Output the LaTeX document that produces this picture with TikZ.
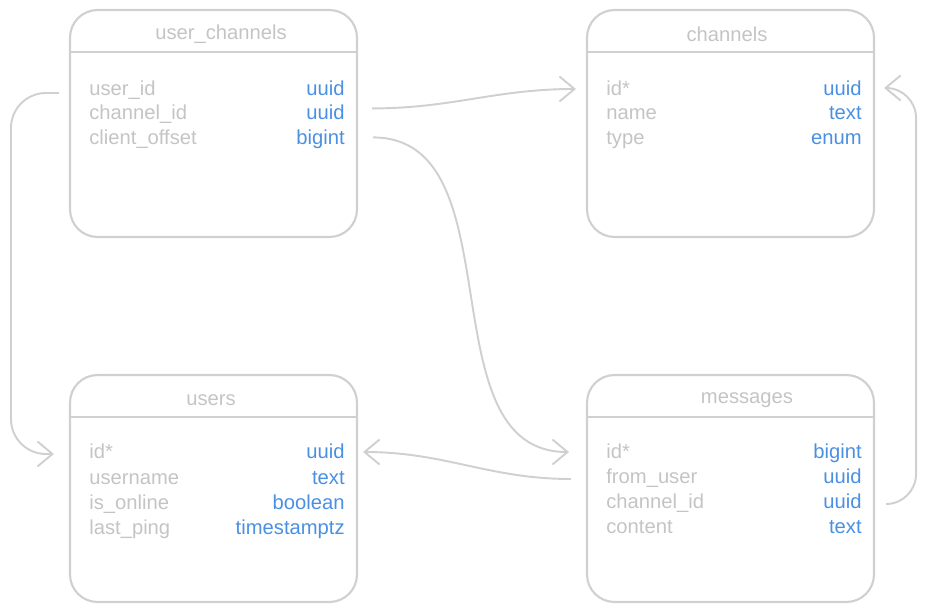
\documentclass[tikz,border=0pt]{standalone}
\usepackage{fontspec}
\setmainfont{Liberation Sans}
\usetikzlibrary{arrows.meta}
\definecolor{linegray}{HTML}{D0D0D0}
\definecolor{txtgray}{HTML}{C4C4C4}
\definecolor{typblue}{HTML}{4A90E2}

\begin{document}
\begin{tikzpicture}[x=0.02cm, y=-0.02cm,
		tbl/.style={draw=linegray, line width=1.2pt, rounded corners=0.55cm, minimum width=5.74cm, minimum height=4.54cm, inner sep=0pt},
		sep/.style={draw=linegray, line width=1.2pt},
		ttl/.style={text=txtgray, font=\fontsize{11.5}{13}\selectfont},
		fld/.style={anchor=mid west, inner sep=0pt, text=txtgray, font=\fontsize{11.5}{13}\selectfont},
		typ/.style={anchor=mid east, inner sep=0pt, text=typblue, font=\fontsize{11.5}{13}\selectfont},
		rel/.style={draw=linegray, line width=1.1pt, -{Straight Barb[length=0.3cm, width=0.5cm]}}]
		\useasboundingbox (0, 0) rectangle (935, 611);
		\node[tbl] (uc) at (213.5, 123.5) {};
		\node[tbl] (ch) at (730.5, 123.5) {};
		\node[tbl] (us) at (213.5, 488.5) {};
		\node[tbl] (ms) at (730.5, 488.5) {};
		\draw[sep] ([yshift=-0.86cm]uc.north west) to ([yshift=-0.86cm]uc.north east);
		\draw[sep] ([yshift=-0.86cm]ch.north west) to ([yshift=-0.86cm]ch.north east);
		\draw[sep] ([yshift=-0.86cm]us.north west) to ([yshift=-0.86cm]us.north east);
		\draw[sep] ([yshift=-0.86cm]ms.north west) to ([yshift=-0.86cm]ms.north east);
		\node[ttl] (uct) at (221, 34) {user\_channels};
		\node[ttl] (cht) at (727, 34) {channels};
		\node[ttl] (ust) at (211, 400) {users};
		\node[ttl] (mst) at (747, 400) {messages};

		\node[fld] (uc1) at (89, 91) {user\_id};
		\node[typ] (uc1t) at (345, 91) {uuid};
		\node[fld] (uc2) at (89, 115) {channel\_id};
		\node[typ] (uc2t) at (345, 115) {uuid};
		\node[fld] (uc3) at (89, 140) {client\_offset};
		\node[typ] (uc3t) at (345, 140) {bigint};

		\node[fld] (ch1) at (606, 91) {id*};
		\node[typ] (ch1t) at (862, 91) {uuid};
		\node[fld] (ch2) at (606, 115) {name};
		\node[typ] (ch2t) at (862, 115) {text};
		\node[fld] (ch3) at (606, 140) {type};
		\node[typ] (ch3t) at (862, 140) {enum};

		\node[fld] (us1) at (89, 454) {id*};
		\node[typ] (us1t) at (345, 454) {uuid};
		\node[fld] (us2) at (89, 480) {username};
		\node[typ] (us2t) at (345, 480) {text};
		\node[fld] (us3) at (89, 505) {is\_online};
		\node[typ] (us3t) at (345, 505) {boolean};
		\node[fld] (us4) at (89, 530) {last\_ping};
		\node[typ] (us4t) at (345, 530) {timestamptz};

		\node[fld] (ms1) at (606, 454) {id*};
		\node[typ] (ms1t) at (862, 454) {bigint};
		\node[fld] (ms2) at (606, 479) {from\_user};
		\node[typ] (ms2t) at (862, 479) {uuid};
		\node[fld] (ms3) at (606, 504) {channel\_id};
		\node[typ] (ms3t) at (862, 504) {uuid};
		\node[fld] (ms4) at (606, 529) {content};
		\node[typ] (ms4t) at (862, 529) {text};

		\draw[rel] ([xshift=0.54cm, yshift=0.08cm]uc2t.east) to[out=0, in=180] ([xshift=-0.2cm, yshift=0.04cm]ch.west |- ch1t.mid);
		\draw[rel] ([xshift=0.56cm, yshift=0.04cm]uc3t.east) to[out=0, in=180] ([xshift=-0.34cm, yshift=0.04cm]ms.west |- ms1t.mid);
		\draw[rel, rounded corners=0.7cm] ([xshift=-0.2cm, yshift=-0.04cm]uc.west |- uc1.mid) -- ++(-48, 0) |- ([xshift=-0.3cm]us.west |- us1t.mid);
		\draw[rel] ([xshift=-0.3cm]ms.west |- ms2t.mid) to[out=180, in=0] ([xshift=0.1cm, yshift=0.04cm]us.east |- us1t.mid);
		\draw[rel, rounded corners=0.6cm] ([xshift=0.26cm]ms.east |- ms3t.mid) -- ++(28, 0) |- ([xshift=0.18cm, yshift=0.06cm]ch.east |- ch1t.mid);
	\end{tikzpicture}
\end{document}
